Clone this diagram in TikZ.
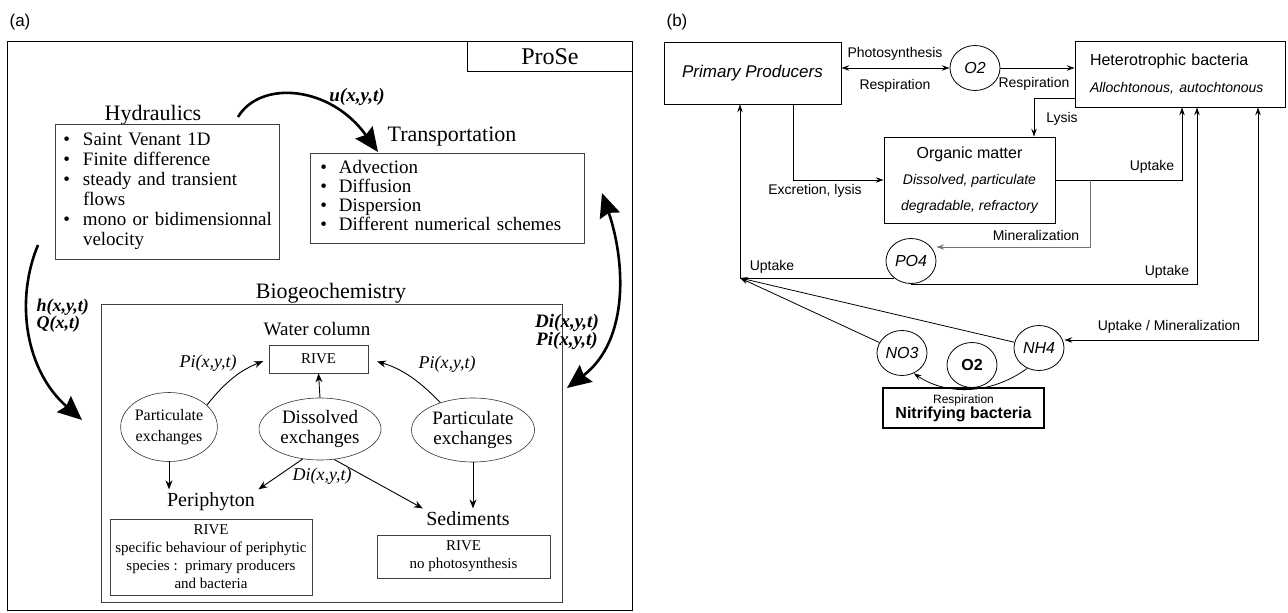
\documentclass[tikz,border=0pt]{standalone}
\usepackage{fontspec}
\setmainfont{Liberation Serif}
\newfontfamily\arialfont{Liberation Sans}
\usetikzlibrary{arrows.meta, positioning, shapes.geometric}

\begin{document}
\begin{tikzpicture}[
    x=1pt, y=-1pt,
    panel/.style={draw, line width=0.9pt, anchor=north west, inner sep=0pt},
    listbox/.style={draw=black!75, line width=0.7pt, anchor=north west, inner ysep=0pt, align=left, font=\fontsize{19}{20}\selectfont},
    ttl/.style={font=\fontsize{22}{22}\selectfont},
    subttl/.style={font=\fontsize{20}{20}\selectfont},
    bubble/.style={draw=black!80, ellipse, line width=0.6pt, inner sep=0pt, align=center, font=\fontsize{19}{20}\selectfont},
    rivebox/.style={draw=black!75, line width=0.7pt, inner sep=0pt, align=center, font=\fontsize{15}{18}\selectfont},
    lbl/.style={font=\fontsize{18}{18}\selectfont\itshape},
    flow/.style={font=\fontsize{19}{18}\selectfont\bfseries\itshape, align=left},
    flux/.style={line width=2.6pt, -{Stealth[length=24pt,width=21pt,inset=3pt]}},
    fluxboth/.style={line width=2.6pt, {Stealth[length=24pt,width=21pt,inset=3pt]}-{Stealth[length=24pt,width=21pt,inset=3pt]}},
    arr/.style={line width=0.9pt, -{Stealth[length=9pt,width=7pt]}},
    compart/.style={draw, line width=0.8pt, inner sep=0pt, font=\arialfont\fontsize{16}{18}\selectfont},
    pool/.style={draw, ellipse, line width=0.8pt, inner sep=0pt, minimum width=50pt, minimum height=45pt, font=\arialfont\fontsize{16}{16}\selectfont\itshape},
    note/.style={font=\arialfont\fontsize{14}{14}\selectfont},
    link/.style={line width=0.8pt, -{Stealth[length=8pt,width=5.5pt,inset=3pt]}},
    linkboth/.style={line width=0.8pt, {Stealth[length=8pt,width=5.5pt,inset=3pt]}-{Stealth[length=8pt,width=5.5pt,inset=3pt]}}
]
\useasboundingbox (0,0) rectangle (1288,613);

% ---------------- panel (a) ----------------
\node[font=\arialfont\fontsize{17}{17}\selectfont] (taga) at (20,22) {(a)};
\node[panel, minimum width=625pt, minimum height=569pt] (framea) at (7,41) {};
\node[panel, minimum width=165pt, minimum height=30pt, font=\fontsize{24}{24}\selectfont] (prose) at (467,41) {ProSe};

% Hydraulics
\node[ttl] (hydttl) at (153,115) {Hydraulics};
\node[listbox, inner xsep=8pt, text width=208pt, minimum height=135pt] (hydbox) at (55,124) {%
  \begin{tabular}{@{}l@{\hspace{13pt}}l@{}}
  \textbullet & Saint Venant 1D\\
  \textbullet & Finite difference\\
  \textbullet & steady and transient\\
              & flows\\
  \textbullet & mono or bidimensionnal\\
              & velocity
  \end{tabular}};

% Transportation
\node[ttl] (trttl) at (452,137) {Transportation};
\node[listbox, inner xsep=10pt, text width=254pt, minimum height=90pt, font=\fontsize{19}{19}\selectfont] (trbox) at (310,153) {%
  \begin{tabular}{@{}l@{\hspace{12pt}}l@{}}
  \textbullet & Advection\\
  \textbullet & Diffusion\\
  \textbullet & Dispersion\\
  \textbullet & Different numerical schemes
  \end{tabular}};

% Biogeochemistry
\node[ttl] (bgcttl) at (331,293) {Biogeochemistry};
\node[listbox, minimum width=461pt, minimum height=298pt, inner sep=0pt] (bgcbox) at (101,304) {};

\node[font=\fontsize{19}{19}\selectfont] (wcttl) at (317,329) {Water column};
\node[rivebox, minimum width=99pt, minimum height=28pt] (rivewc) at (318.5,359) {RIVE};

\node[bubble, minimum width=94pt, minimum height=69pt, font=\fontsize{16}{21}\selectfont] (pleft) at (169,427) {Particulate\\exchanges};
\node[bubble, minimum width=122pt, minimum height=62pt] (dis) at (320,429) {Dissolved\\exchanges};
\node[bubble, minimum width=123pt, minimum height=64pt] (pright) at (473,430) {Particulate\\exchanges};

\node[lbl] (pil) at (208,363) {Pi(x,y,t)};
\node[lbl] (pir) at (447,364) {Pi(x,y,t)};
\node[lbl] (dil) at (322,476) {Di(x,y,t)};

\node[subttl] (periph) at (211,502) {Periphyton};
\node[subttl] (sedim) at (468,519) {Sediments};
\node[rivebox, minimum width=202pt, minimum height=76pt] (rivep) at (211,557) {RIVE\\specific behaviour of periphytic\\species :\ \ primary producers\\and bacteria};
\node[rivebox, minimum width=173pt, minimum height=43pt] (rives) at (463.5,556.5) {RIVE\\no photosynthesis};

% coupling fluxes
\node[flow] (ulbl) at (357,97) {u(x,y,t)};
\node[flow, anchor=west, font=\fontsize{18}{17}\selectfont\bfseries\itshape] (hqlbl) at (33,316) {h(x,y,t)\\Q(x,t)};
\node[flow, align=center] (dplbl) at (567,332) {Di(x,y,t)\\Pi(x,y,t)};

\coordinate (uA) at (238,117);
\coordinate (uB) at (378,152);
\coordinate (hA) at (38,245);
\coordinate (hB) at (82,420);
\coordinate (dpA) at (602,193);
\coordinate (dpB) at (567,388);
\draw[flux] (uA) .. controls (260,80) and (330,85) .. (uB);
\draw[flux] (hA) .. controls (15,300) and (25,370) .. (hB);
\draw[fluxboth] (dpA) .. controls (625,260) and (630,340) .. (dpB);

% exchanges
\draw[arr] (dis.north) -- (rivewc.south);
\draw[arr, shorten >=6pt] (pleft.30) to[bend left=15] (rivewc.west);
\draw[arr, shorten >=9pt] (pright.140) to[bend right=15] (rivewc.east);
\draw[arr] (pleft.south) -- (pleft.south |- periph.north);
\draw[arr] (dis.240) -- (periph.north east);
\draw[arr] (dis.295) -- (sedim.north west);
\draw[arr] (pright.south) -- (pright.south |- sedim.north);

% ---------------- panel (b) ----------------
\node[font=\arialfont\fontsize{17}{17}\selectfont] (tagb) at (677,22) {(b)};

\node[compart, minimum width=177pt, minimum height=62pt, font=\arialfont\fontsize{17}{17}\selectfont\itshape] (pp) at (752.5,73) {Primary Producers};
\node[pool] (o2a) at (975,68) {O2};
\node[compart, minimum width=210pt, minimum height=66pt, inner xsep=15pt, text width=180pt, align=left] (hb) at (1180,74) {Heterotrophic bacteria\\[9pt]{\fontsize{14}{14}\selectfont\itshape Allochtonous, autochtonous}};
\node[compart, minimum width=171pt, minimum height=86pt, align=center] (om) at (969.5,180) {Organic matter\\[8pt]{\fontsize{14}{14}\selectfont\itshape Dissolved, particulate}\\[8pt]{\fontsize{14}{14}\selectfont\itshape degradable, refractory}};
\node[pool] (po4) at (911,261) {PO4};
\node[pool] (no3) at (902,353) {NO3};
\node[pool, font=\arialfont\fontsize{16}{16}\selectfont\bfseries] (o2b) at (972,365) {O2};
\node[pool] (nh4) at (1039,348) {NH4};
\node[compart, line width=1.3pt, minimum width=161pt, minimum height=40pt, align=center] (nitri) at (963.5,408) {{\fontsize{12}{12}\selectfont Respiration}\\[-3pt]{\bfseries Nitrifying bacteria}};

\node[note] (photo) at (895,54) {Photosynthesis};
\node[note] (resp1) at (895,86) {Respiration};
\node[note] (resp2) at (1034,84) {Respiration};
\node[note] (lysis) at (1062,119) {Lysis};
\node[note] (excr) at (815,191) {Excretion, lysis};
\node[note] (upom) at (1152,167) {Uptake};
\node[note] (mineral) at (1036,235) {Mineralization};
\node[note] (uppp) at (772,267) {Uptake};
\node[note] (uppo) at (1167,272) {Uptake};
\node[note] (upnh) at (1169,327) {Uptake / Mineralization};

\coordinate (uptk) at (740,278);
\coordinate (minsplit) at (1090,180);

\draw[linkboth] (pp.east |- o2a.west) -- (o2a.west);
\draw[link] (o2a.east) -- (o2a.east -| hb.west);
\draw[link] ([yshift=-24pt]hb.west) -| ([xshift=64.5pt]om.north);
\draw[link] ([xshift=40.5pt]pp.south) |- (om.west);
\draw[link] (om.east) -| ([xshift=2pt]hb.south);
\draw[link, draw=black!55] (minsplit) |- ([yshift=14pt]po4.east);
\draw[link] (po4.225) -| (uptk |- pp.south);
\draw[link] (po4.south) -| ([xshift=17pt]hb.south);
\draw[linkboth] ([xshift=78pt]hb.south) |- ([yshift=8pt]nh4.east);
\draw[link] (no3) -- (uptk);
\draw[link] (nh4) -- (uptk);
\draw[link] (nh4.240) .. controls +(-37,27) and +(32,22) .. (no3.300);

\end{tikzpicture}
\end{document}
